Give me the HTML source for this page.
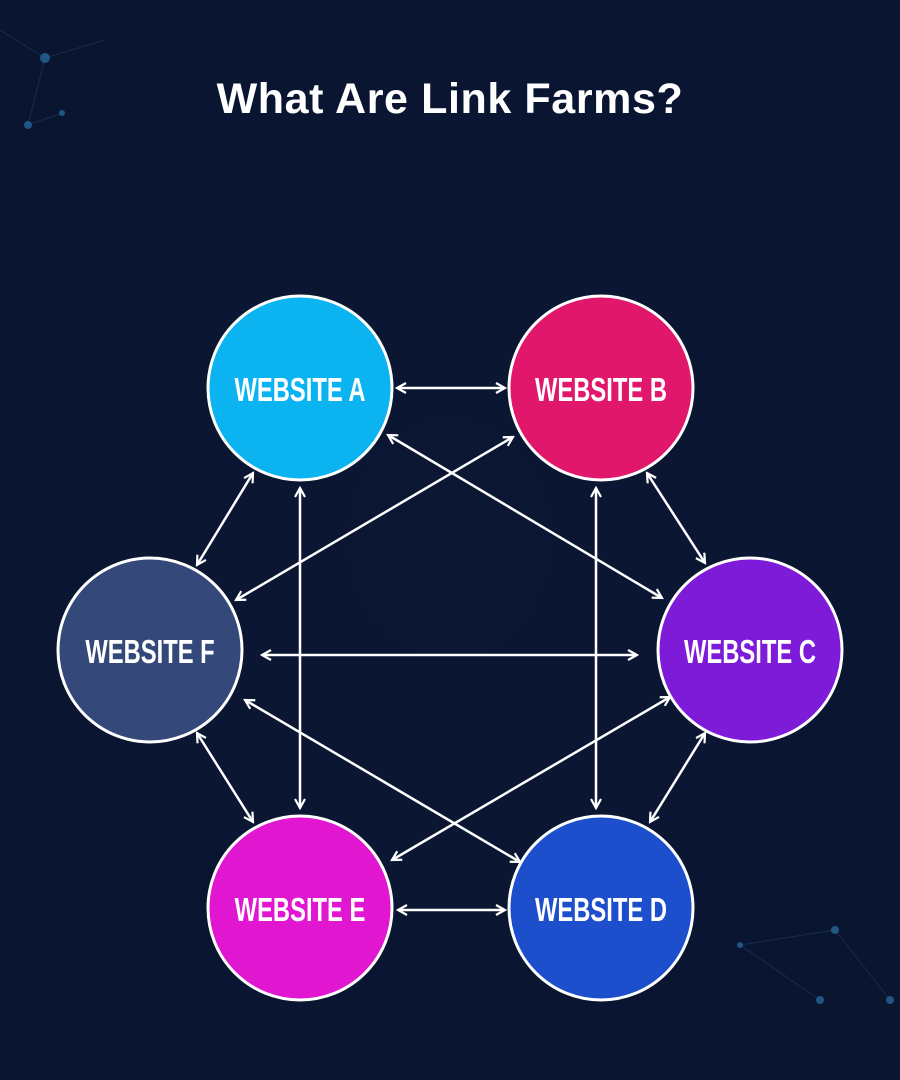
<!DOCTYPE html>
<html><head><meta charset="utf-8"><style>
html,body{margin:0;padding:0;background:#0b1733;}
svg{display:block}
</style></head><body>
<svg width="900" height="1080" viewBox="0 0 900 1080" xmlns="http://www.w3.org/2000/svg">
<defs>
<radialGradient id="bg" cx="0.5" cy="0.5" r="0.7">
<stop offset="0" stop-color="#0b1733"/><stop offset="1" stop-color="#0a1630"/>
</radialGradient>
<marker id="ah" viewBox="0 0 12 12" refX="10" refY="6" markerWidth="12" markerHeight="12" markerUnits="userSpaceOnUse" orient="auto-start-reverse">
<path d="M1,1 L10,6 L1,11" fill="none" stroke="#fff" stroke-width="2.2"/>
</marker>
</defs>
<rect width="900" height="1080" fill="url(#bg)"/>
<g stroke="#1d3a66" stroke-width="1" opacity="0.6">
<line x1="0" y1="30" x2="45" y2="58"/><line x1="45" y1="58" x2="28" y2="125"/><line x1="45" y1="58" x2="105" y2="40"/>
<line x1="28" y1="125" x2="62" y2="113"/><line x1="740" y1="945" x2="835" y2="930"/><line x1="835" y1="930" x2="890" y2="1000"/><line x1="740" y1="945" x2="820" y2="1000"/>
</g>
<g fill="#2a6fa5" opacity="0.7">
<circle cx="45" cy="58" r="5"/><circle cx="28" cy="125" r="4"/><circle cx="62" cy="113" r="3"/>
<circle cx="835" cy="930" r="4"/><circle cx="890" cy="1000" r="4"/><circle cx="740" cy="945" r="3"/><circle cx="820" cy="1000" r="4"/>
</g>
<text x="450" y="113" text-anchor="middle" font-family="Liberation Sans, sans-serif" font-weight="bold" font-size="43" letter-spacing="0.6" fill="#fff">What Are Link Farms?</text>
<g stroke="#fff" stroke-width="2.5" fill="none" marker-start="url(#ah)" marker-end="url(#ah)">
<line x1="397" y1="388" x2="505" y2="388"/>
<line x1="253" y1="473" x2="197" y2="565"/>
<line x1="300" y1="488" x2="300" y2="808"/>
<line x1="388" y1="435" x2="662" y2="598"/>
<line x1="513" y1="437" x2="236" y2="600"/>
<line x1="596" y1="488" x2="596" y2="808"/>
<line x1="647" y1="473" x2="705" y2="563"/>
<line x1="262" y1="655" x2="637" y2="655"/>
<line x1="197" y1="733" x2="253" y2="822"/>
<line x1="245" y1="700" x2="520" y2="862"/>
<line x1="670" y1="697" x2="392" y2="860"/>
<line x1="705" y1="733" x2="650" y2="822"/>
<line x1="398" y1="910" x2="505" y2="910"/>
</g>
<g stroke="#fff" stroke-width="3">
<circle cx="300" cy="388" r="92" fill="#0bb3f0"/>
<circle cx="601" cy="388" r="92" fill="#e0176a"/>
<circle cx="750" cy="650" r="92" fill="#7e1bd9"/>
<circle cx="601" cy="908" r="92" fill="#1d4fcc"/>
<circle cx="300" cy="908" r="92" fill="#e016d0"/>
<circle cx="150" cy="650" r="92" fill="#34497a"/>
</g>
<g font-family="Liberation Sans, sans-serif" font-weight="bold" font-size="33" fill="#fff" text-anchor="middle">
<text transform="translate(300,401) scale(0.72,1)">WEBSITE A</text>
<text transform="translate(601,401) scale(0.72,1)">WEBSITE B</text>
<text transform="translate(750,663) scale(0.72,1)">WEBSITE C</text>
<text transform="translate(601,921) scale(0.72,1)">WEBSITE D</text>
<text transform="translate(300,921) scale(0.72,1)">WEBSITE E</text>
<text transform="translate(150,663) scale(0.72,1)">WEBSITE F</text>
</g>
</svg>
</body></html>
